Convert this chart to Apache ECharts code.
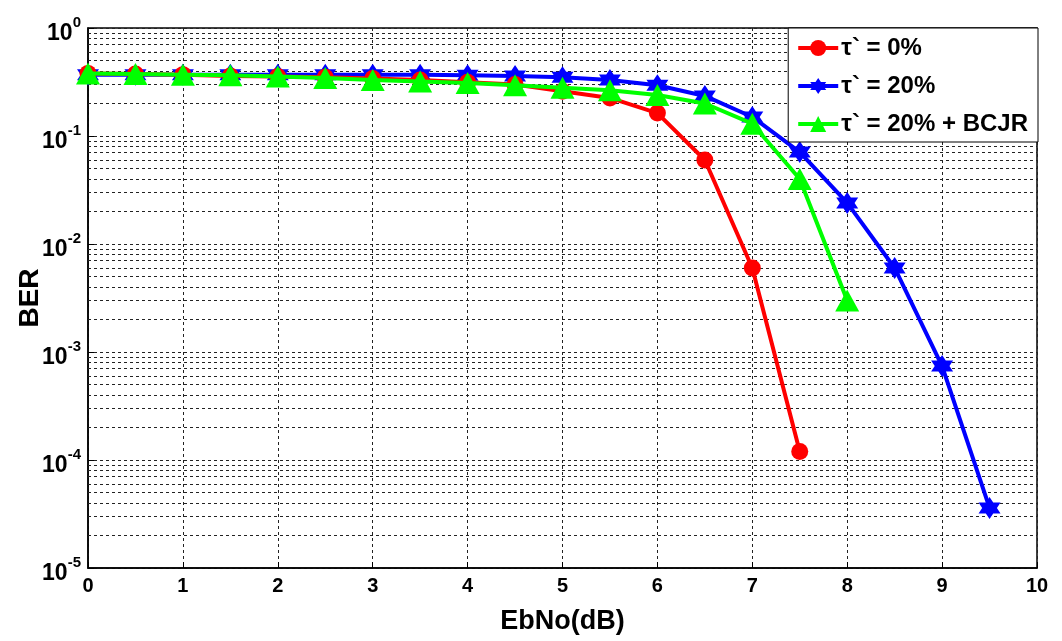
<!DOCTYPE html>
<html>
<head>
<meta charset="utf-8">
<script src="https://cdn.jsdelivr.net/npm/echarts@6/dist/echarts.min.js"></script>
<style>
  html, body { margin: 0; padding: 0; background: #fff; }
  #chart { width: 1062px; height: 641px; }
</style>
</head>
<body>
<div id="chart"></div>
<script>
// Eb/No sweep (dB)
const ebno = [0, 0.5, 1, 1.5, 2, 2.5, 3, 3.5, 4, 4.5, 5, 5.5, 6, 6.5, 7, 7.5, 8, 8.5, 9, 9.5];

// Bit error rate per scheme
const berTau0 = [0.38, 0.375, 0.37, 0.36, 0.355, 0.35, 0.34, 0.33, 0.315, 0.3, 0.26, 0.225, 0.163, 0.06, 0.006, 1.2e-4];
const berTau20 = [0.37, 0.37, 0.37, 0.37, 0.37, 0.37, 0.37, 0.37, 0.365, 0.36, 0.35, 0.33, 0.295, 0.235, 0.15, 0.071, 0.024, 0.006, 7.4e-4, 3.6e-5];
const berTau20Bcjr = [0.38, 0.375, 0.37, 0.365, 0.355, 0.345, 0.33, 0.32, 0.31, 0.295, 0.28, 0.265, 0.24, 0.2, 0.13, 0.04, 0.003];

const seriesNames = ['\u03c4` = 0%', '\u03c4` = 20%', '\u03c4` = 20% + BCJR'];
const xTicks = [0, 1, 2, 3, 4, 5, 6, 7, 8, 9, 10];
const decades = [-5, -4, -3, -2, -1, 0];

// Log-scale minor grid lines at 2..9 x 10^k
const minorLevels = [];
decades.slice(0, -1).forEach(function (k) {
  for (let m = 2; m <= 9; m++) minorLevels.push(m * Math.pow(10, k));
});

const pairs = (ys) => ys.map((y, i) => [ebno[i], y]);

const starPath = 'path://M0,-10 L2.9,-5 L8.66,-5 L5.8,0 L8.66,5 L2.9,5 L0,10 L-2.9,5 L-8.66,5 L-5.8,0 L-8.66,-5 L-2.9,-5 Z';

const gridLine = { color: '#222', width: 1, type: [3, 3] };

const chart = echarts.init(document.getElementById('chart'), null, { renderer: 'canvas' });

chart.setOption({
  animation: false,
  backgroundColor: '#fff',
  grid: {
    left: 88, right: 25, top: 28, bottom: 73,
    containLabel: false,
    outerBoundsMode: 'none',
    show: true, borderColor: '#000', borderWidth: 1.5, backgroundColor: 'transparent'
  },
  legend: {
    right: 24, top: 28,
    orient: 'vertical',
    backgroundColor: '#fff',
    borderColor: '#000',
    borderWidth: 1,
    padding: [8, 10, 6, 8],
    itemGap: 14,
    itemWidth: 40,
    itemHeight: 20,
    lineStyle: { width: 4 },
    textStyle: { fontFamily: 'Liberation Sans', fontWeight: 'bold', fontSize: 24, color: '#000', padding: [0, 0, 0, -2] },
    data: seriesNames
  },
  xAxis: {
    type: 'value',
    min: 0, max: 10, interval: 1,
    axisLine: { show: true, onZero: false, lineStyle: { color: '#000', width: 1.5 } },
    axisTick: { show: true, inside: true, length: 6, lineStyle: { color: '#000' } },
    axisLabel: {
      fontFamily: 'Liberation Sans', fontWeight: 'bold', fontSize: 20, color: '#000', margin: 8,
      formatter: (v) => xTicks.includes(v) ? String(v) : ''
    },
    splitLine: { show: true, lineStyle: gridLine },
    name: 'EbNo(dB)',
    nameLocation: 'middle',
    nameGap: 40,
    nameTextStyle: { fontFamily: 'Liberation Sans', fontWeight: 'bold', fontSize: 27, color: '#000' }
  },
  yAxis: {
    type: 'log',
    logBase: 10,
    min: 1e-5, max: 1,
    splitNumber: 5,
    axisLine: { show: true, lineStyle: { color: '#000', width: 1.5 } },
    axisTick: { show: true, inside: true, length: 6, lineStyle: { color: '#000' } },
    axisLabel: {
      margin: 7,
      formatter: function (v) {
        const e = Math.round(Math.log10(v));
        return '{b|10}{e|' + e + '}';
      },
      rich: {
        b: { fontFamily: 'Liberation Sans', fontWeight: 'bold', fontSize: 23, color: '#000', padding: [12, 0, 0, 0] },
        e: { fontFamily: 'Liberation Sans', fontWeight: 'bold', fontSize: 15, color: '#000', padding: [0, 0, 10, 0] }
      }
    },
    splitLine: { show: true, lineStyle: gridLine },
    name: 'BER',
    nameLocation: 'middle',
    nameRotate: 90,
    nameGap: 44,
    nameMoveOverlap: false,
    nameTextStyle: { fontFamily: 'Liberation Sans', fontWeight: 'bold', fontSize: 28, color: '#000' }
  },
  series: [
    {
      name: seriesNames[0],
      type: 'line',
      data: pairs(berTau0),
      symbol: 'circle',
      symbolSize: 17,
      lineStyle: { color: '#ff0000', width: 4 },
      itemStyle: { color: '#ff0000' },
      z: 3,
      markLine: {
        silent: true,
        symbol: 'none',
        label: { show: false },
        lineStyle: gridLine,
        data: minorLevels.map((v) => [{ coord: [0, v] }, { coord: [10, v] }]),
        z: 1
      }
    },
    {
      name: seriesNames[1],
      type: 'line',
      data: pairs(berTau20),
      symbol: starPath,
      symbolSize: 22,
      lineStyle: { color: '#0000ff', width: 4 },
      itemStyle: { color: '#0000ff' },
      z: 2
    },
    {
      name: seriesNames[2],
      type: 'line',
      data: pairs(berTau20Bcjr),
      symbol: 'triangle',
      symbolSize: [24, 22],
      lineStyle: { color: '#00ff00', width: 4 },
      itemStyle: { color: '#00ff00' },
      z: 4
    }
  ]
});
</script>
</body>
</html>
